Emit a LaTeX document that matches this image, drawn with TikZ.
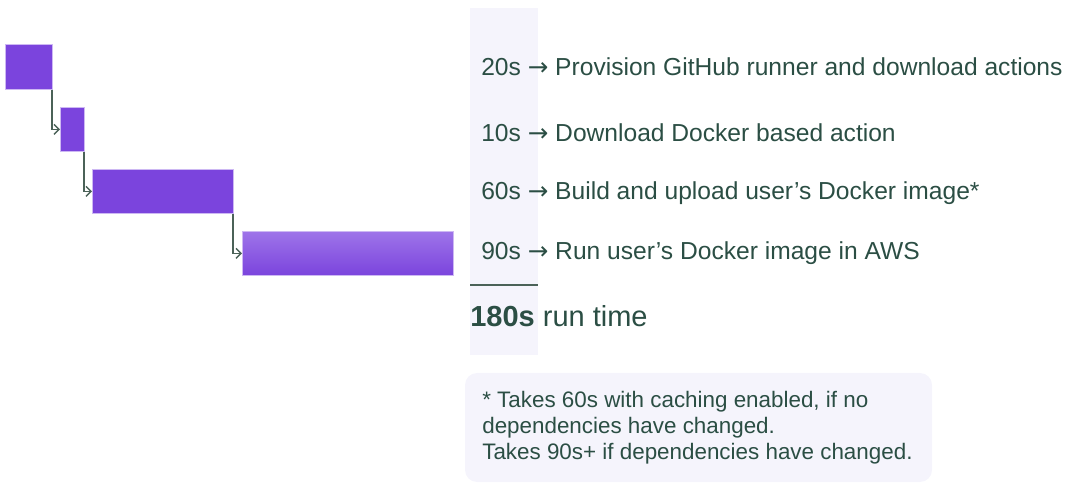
\documentclass[tikz,border=0pt]{standalone}
\usepackage{fontspec}
\setmainfont{Liberation Sans}
\newfontfamily\arrowfont{DejaVu Sans}
\usetikzlibrary{arrows.meta,positioning}
\definecolor{barpurple}{HTML}{7B44DD}
\definecolor{barlight}{HTML}{9E74E9}
\definecolor{barrim}{HTML}{CDB8F3}
\definecolor{textgreen}{HTML}{2B4E44}
\definecolor{linkgrey}{HTML}{4B6258}
\definecolor{panel}{HTML}{F5F4FC}
\newcommand{\toarrow}{{\arrowfont\char"2192}}

\begin{document}
\begin{tikzpicture}[x=1pt,y=-1pt,semithick,
            bar/.style={anchor=north west,fill=barpurple,draw=barrim,line width=0.8pt,inner sep=0pt},
            link/.style={draw=linkgrey,line width=1.4pt,-{Straight Barb[length=5pt,width=10pt]}},
            row/.style={anchor=west,text=textgreen,font=\fontsize{24.6}{29}\selectfont,inner sep=0pt},
            note/.style={anchor=north west,text=textgreen,font=\fontsize{22.4}{26}\selectfont,align=left,inner sep=0pt}]
            \useasboundingbox (0,0) rectangle (1080,486);

            % light column behind the durations
            \fill   [panel]     (470,8) rectangle (538,355);

            \node   [bar,minimum width=47pt,minimum height=45pt]    (b1) at (5,44) {};
            \node   [bar,minimum width=24pt,minimum height=44pt]    (b2) at (60,107) {};
            \node   [bar,minimum width=141pt,minimum height=44pt]   (b3) at (92,169) {};
            \node   [bar,minimum width=211pt,minimum height=44pt,
                     top color=barlight,bottom color=barpurple]     (b4) at (242,231) {};

            \draw   [link]  ([xshift=-1pt]b1.south east) |- (b2.west);
            \draw   [link]  ([xshift=-1pt]b2.south east) |- (b3.west);
            \draw   [link]  ([xshift=-1pt]b3.south east) |- (b4.west);

            \node   [row]   (r1) at (481,67)  {20s \toarrow{} Provision GitHub runner and download actions};
            \node   [row]   (r2) at (481,133) {10s \toarrow{} Download Docker based action};
            \node   [row]   (r3) at (481,193) {60s \toarrow{} Build and upload user’s Docker image*};
            \node   [row]   (r4) at (481,253) {90s \toarrow{} Run user’s Docker image in AWS};

            \draw   [linkgrey,line width=1.2pt] (470,285) -- (538,285);
            \node   [row,font=\fontsize{29}{33}\selectfont]   (total) at (470,316)
                    {\textbf{180s} run time};

            % footnote box
            \fill   [panel,rounded corners=12pt]    (465,373) rectangle (932,482);
            \node   [note]  (n1) at (482,391)
                    {* Takes 60s with caching enabled, if no\\dependencies have changed.\\Takes 90s+ if dependencies have changed.};
\end{tikzpicture}
\end{document}
